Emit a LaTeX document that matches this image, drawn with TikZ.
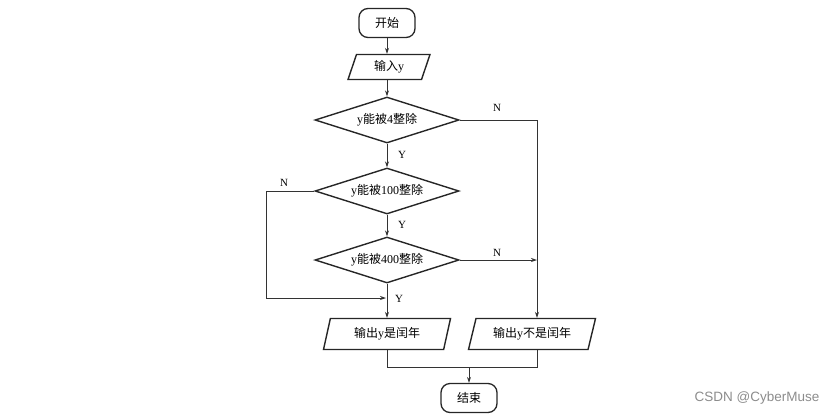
\documentclass[tikz,border=0pt]{standalone}
\usepackage{fontspec}
\setmainfont{Liberation Serif}
\newfontfamily\cjk{Noto Sans CJK SC}
\newfontfamily\markfont{Liberation Sans}
\newcommand{\zh}[1]{{\cjk #1}}
\usetikzlibrary{shapes.geometric,arrows.meta}

\tikzset{
  flowline/.style={draw=black!80, line width=0.8pt},
  arrowline/.style={flowline, -{Stealth[length=6pt,width=4pt]}},
  boxfont/.style={font=\fontsize{12}{14}\selectfont},
  terminal/.style={draw=black!85, line width=1.3pt, rounded corners=9pt,
    minimum width=56pt, minimum height=29pt, inner sep=0pt, boxfont},
  ioblock/.style={draw=black!85, line width=1.4pt, trapezium,
    trapezium left angle=60, trapezium right angle=120,
    trapezium stretches body, inner sep=1pt, boxfont},
  decision/.style={draw=black!85, line width=1.4pt, diamond, aspect=3,
    inner sep=0pt, minimum width=144pt, minimum height=46pt, boxfont},
  ynlabel/.style={font=\fontsize{11}{13}\selectfont}
}

\begin{document}
\begin{tikzpicture}[x=1pt,y=-1pt]
  \useasboundingbox (0,0) rectangle (832,416);

  % Blocchi principali
  \node[terminal] (start) at (387,23) {\zh{开始}};
  \node[ioblock, minimum width=82pt, minimum height=25pt] (input) at (389,67) {\zh{输入}y};
  \node[decision] (d1) at (387,120) {y\zh{能被}4\zh{整除}};
  \node[decision] (d2) at (387,191) {y\zh{能被}100\zh{整除}};
  \node[decision] (d3) at (387,260) {y\zh{能被}400\zh{整除}};
  \node[ioblock, trapezium left angle=65, trapezium right angle=115,
    minimum width=127pt, minimum height=31pt] (yes) at (387,334) {\zh{输出}y\zh{是闰年}};
  \node[ioblock, trapezium left angle=63, trapezium right angle=117,
    minimum width=127pt, minimum height=31pt] (no) at (532,334) {\zh{输出}y\zh{不是闰年}};
  \node[terminal] (stop) at (469,398) {\zh{结束}};

  % Punti di svolta
  \coordinate (rcorner) at (537,120);
  \coordinate (lcorner) at (266,191);
  \coordinate (join) at (386,298);
  \coordinate (merge) at (469,367);

  % Collegamenti
  \draw[arrowline] (start) -- (start |- input.north);
  \draw[arrowline] (start |- input.south) -- (d1);
  \draw[arrowline] (d1) -- (d2);
  \draw[arrowline] (d2) -- (d3);
  \draw[arrowline] (d3) -- (yes);
  \draw[flowline] (d1.east) -- (rcorner);
  \draw[arrowline] (rcorner) -- (rcorner |- no.north);
  \draw[arrowline] (d3.east) -- (d3.east -| rcorner);
  \draw[arrowline] (d2.west) -- (lcorner) -- (lcorner |- join) -- (join);
  \draw[flowline] (yes.south) -- (yes.south |- merge) -- (merge -| rcorner) -- (rcorner |- no.south);
  \draw[arrowline] (merge) -- (stop);

  % Etichette Y/N
  \node[ynlabel] (n1) at (497,108) {N};
  \node[ynlabel] (y1) at (402,155) {Y};
  \node[ynlabel] (n2) at (284,183) {N};
  \node[ynlabel] (y2) at (402,225) {Y};
  \node[ynlabel] (n3) at (497,253) {N};
  \node[ynlabel] (y3) at (399,299) {Y};

  \node[font=\markfont\fontsize{13.5}{16}\selectfont, text=black!45] (mark) at (757,398) {CSDN @CyberMuse};
\end{tikzpicture}
\end{document}
